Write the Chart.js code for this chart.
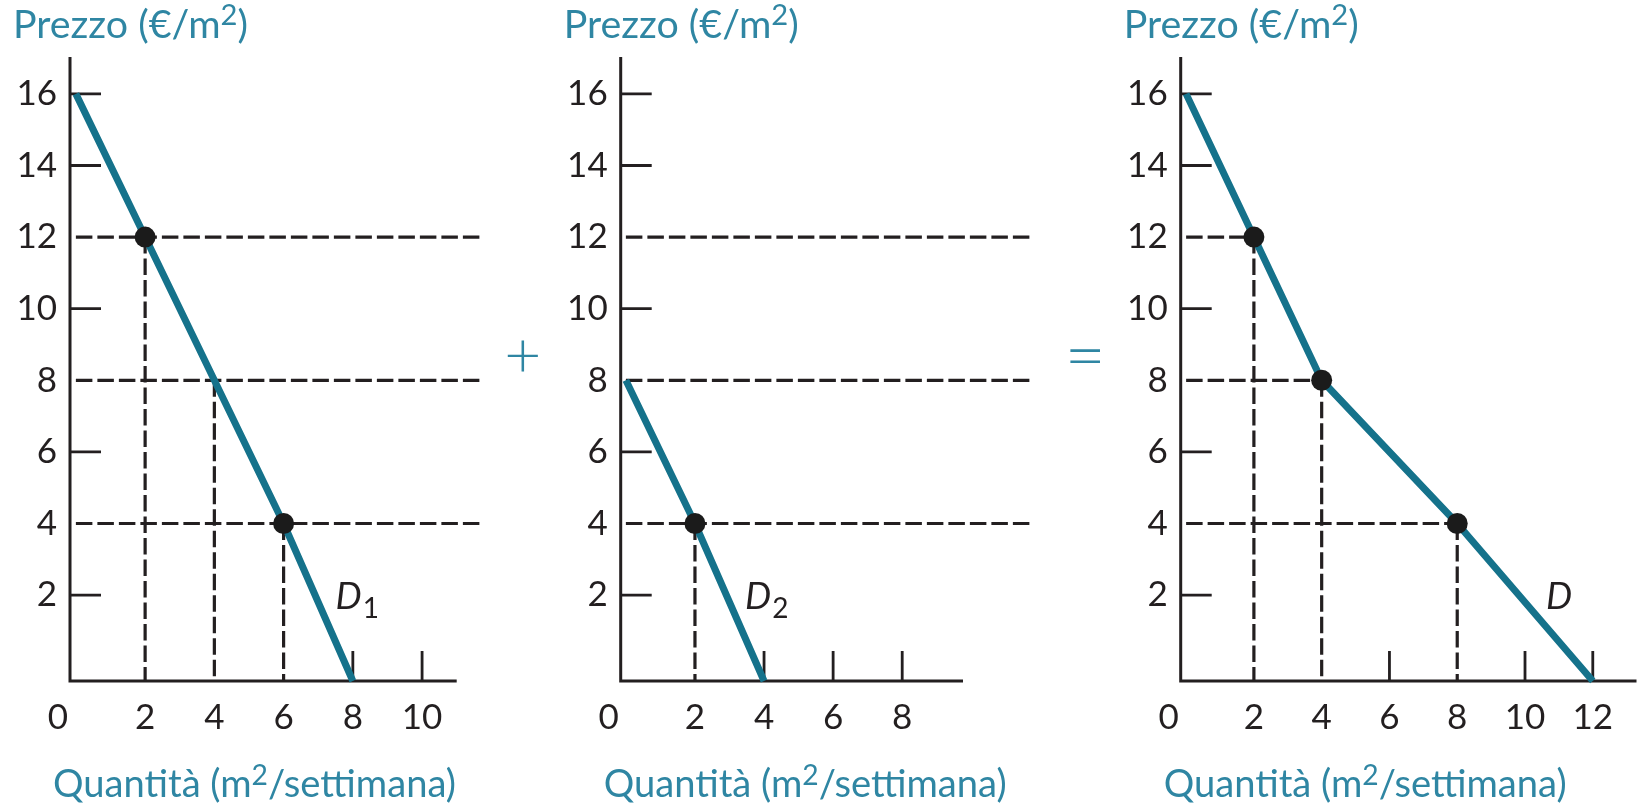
<!DOCTYPE html>
<html><head><meta charset="utf-8">
<script src="https://cdn.jsdelivr.net/npm/chart.js@4.4.1/dist/chart.umd.min.js"></script>
<style>
html,body{margin:0;padding:0;background:#fff;width:1647px;height:811px;overflow:hidden}
canvas{position:absolute;left:0;top:0}
</style></head><body>
<canvas id="c1" width="1647" height="811"></canvas>
<canvas id="c2" width="1647" height="811"></canvas>
<canvas id="c3" width="1647" height="811"></canvas>
<script>
// ---------------- DATA ----------------
const priceTicks = [2, 4, 6, 8, 10, 12, 14, 16];
const qTicks1 = [2, 4, 6, 8, 10];
const qTicks2 = [2, 4, 6, 8];
const qTicks3 = [2, 4, 6, 8, 10, 12];

// Demand curves (quantity, price). The last point is where each curve meets the quantity axis.
const d1Q = [0, 2, 6, 8];        const d1P = [16, 12, 4, -0.4];
const d2Q = [0, 2, 4];           const d2P = [8, 4, -0.4];
const dQ  = [0, 2, 4, 8, 12];    const dP  = [16, 12, 8, 4, -0.4];

// Marked points
const pts1Q = [2, 6];     const pts1P = [12, 4];
const pts2Q = [2];        const pts2P = [4];
const pts3Q = [2, 4, 8];  const pts3P = [12, 8, 4];

// Dashed guides: horizontal (price level, end quantity), vertical (quantity, from price)
const h1P = [12, 8, 4];   const h1End = [11.75, 11.75, 11.75];
const v1Q = [2, 4, 6];    const v1Top = [12, 8, 4];
const h2P = [12, 8, 4];   const h2End = [11.75, 11.75, 11.75];
const v2Q = [2];          const v2Top = [4];
const h3P = [12, 8, 4];   const h3End = [2, 4, 8];
const v3Q = [2, 4, 8];    const v3Top = [12, 8, 4];

const curveNames = ['D', 'D', 'D'];
const curveSubs  = ['1', '2', ''];
const priceTitle = ['Prezzo (€/m', '2', ')'];
const qtyTitle   = ['Quantità (m', '2', '/settimana)'];

// ---------------- STYLE / LAYOUT ----------------
const FAMILY = 'Lato, "Open Sans", "DejaVu Sans", sans-serif';
const TEXT = '#231f20';
const TEAL_TEXT = '#2f86a3';
const CURVE = '#15728b';
const INK = '#231f20';
const P_MIN = -0.4, P_MAX = 17.03;
const AXIS_TOP = 57, AXIS_BOTTOM = 681;
const Y_W = 60, X_H = 80;
const TICK_FONT = 35;
const X_LABEL_PAD = 36.5 - TICK_FONT * 0.6;

const panels = [
  {id:'c1', left:70, right:456.7, qMin:-0.17, qMax:11.0, qTicks:qTicks1,
   cQ:d1Q, cP:d1P, pQ:pts1Q, pP:pts1P, hP:h1P, hEnd:h1End, vQ:v1Q, vTop:v1Top,
   name:curveNames[0], sub:curveSubs[0], labelAt:[7.5, 1.6]},
  {id:'c2', left:620.7, right:963, qMin:-0.15, qMax:9.76, qTicks:qTicks2,
   cQ:d2Q, cP:d2P, pQ:pts2Q, pP:pts2P, hP:h2P, hEnd:h2End, vQ:v2Q, vTop:v2Top,
   name:curveNames[1], sub:curveSubs[1], labelAt:[3.45, 1.6]},
  {id:'c3', left:1180.7, right:1643.3, qMin:-0.16, qMax:13.29, qTicks:qTicks3,
   cQ:dQ, cP:dP, pQ:pts3Q, pP:pts3P, hP:h3P, hEnd:h3End, vQ:v3Q, vTop:v3Top,
   name:curveNames[2], sub:curveSubs[2], labelAt:[10.62, 1.6]}
];

function zip(xs, ys){ return xs.map((x,i)=>({x:x, y:ys[i]})); }

function drawParts(ctx, parts, x, baseline, size, color){
  ctx.save();
  ctx.fillStyle = color;
  ctx.textBaseline = 'alphabetic';
  ctx.textAlign = 'left';
  let cx = x;
  parts.forEach((t, i) => {
    const sup = (i === 1);
    const s = sup ? size*0.74 : size;
    ctx.font = s + 'px ' + FAMILY;
    ctx.fillText(t, cx, sup ? baseline - size*0.32 : baseline);
    cx += ctx.measureText(t).width;
  });
  ctx.restore();
}
function partsWidth(ctx, parts, size){
  let w = 0;
  parts.forEach((t,i)=>{ ctx.font = (i===1?size*0.74:size)+'px '+FAMILY; w += ctx.measureText(t).width; });
  return w;
}

function decor(p, idx){
  return {
    id:'decor'+idx,
    beforeDatasetsDraw(chart){
      const ctx = chart.ctx, xs = chart.scales.x, ys = chart.scales.y;
      const ca = chart.chartArea;
      ctx.save();
      ctx.strokeStyle = INK; ctx.lineWidth = 3; ctx.lineCap = 'butt';
      ctx.beginPath();
      ctx.moveTo(ca.left, ca.top); ctx.lineTo(ca.left, ca.bottom + 1.5);
      ctx.moveTo(ca.left - 1.5, ca.bottom); ctx.lineTo(ca.right, ca.bottom);
      ctx.stroke();
      ctx.lineWidth = 2.8;
      ctx.beginPath();
      priceTicks.filter(v => !p.hP.includes(v)).forEach(v => {
        const y = ys.getPixelForValue(v);
        ctx.moveTo(ca.left, y); ctx.lineTo(ca.left + 31, y);
      });
      p.qTicks.filter(v => !p.vQ.includes(v)).forEach(v => {
        const x = xs.getPixelForValue(v);
        ctx.moveTo(x, ca.bottom); ctx.lineTo(x, ca.bottom - 30);
      });
      ctx.stroke();
      ctx.restore();
    },
    afterDraw(chart){
      const ctx = chart.ctx, xs = chart.scales.x, ys = chart.scales.y;
      const ca = chart.chartArea;
      ctx.save();
      ctx.fillStyle = TEXT;
      ctx.font = TICK_FONT + 'px ' + FAMILY;
      ctx.textAlign = 'center'; ctx.textBaseline = 'middle';
      ctx.fillText('0', ca.left - 12, ca.bottom + X_LABEL_PAD + TICK_FONT*1.2/2);
      const ptSize = 32 * 235 / partsWidth(ctx, priceTitle, 32);
      drawParts(ctx, priceTitle, ca.left - 57, 38, ptSize, TEAL_TEXT);
      const qtSize = 32 * 403 / partsWidth(ctx, qtyTitle, 32);
      drawParts(ctx, qtyTitle, ca.left - 17, 797, qtSize, TEAL_TEXT);
      const lx = xs.getPixelForValue(p.labelAt[0]);
      const ly = ys.getPixelForValue(p.labelAt[1]);
      ctx.textAlign = 'left'; ctx.textBaseline = 'alphabetic';
      ctx.fillStyle = TEXT;
      ctx.font = 'italic 37px ' + FAMILY;
      ctx.fillText(p.name, lx, ly);
      const dw = ctx.measureText(p.name).width;
      if (p.sub){
        ctx.font = '28px ' + FAMILY;
        ctx.fillText(p.sub, lx + dw + 1, ly + 9);
      }
      if (idx === 0 || idx === 1){
        const sym = idx === 0 ? '+' : '=';
        const cx = idx === 0 ? 522.7 : 1085;
        const targetW = idx === 0 ? 32 : 30;
        ctx.font = '300 50px ' + FAMILY;
        const m = ctx.measureText(sym);
        const gw = m.actualBoundingBoxLeft + m.actualBoundingBoxRight;
        const size = 50 * targetW / gw;
        ctx.font = '300 ' + size + 'px ' + FAMILY;
        const m2 = ctx.measureText(sym);
        const gx = cx - (m2.actualBoundingBoxRight - m2.actualBoundingBoxLeft)/2;
        ctx.fillStyle = TEAL_TEXT;
        ctx.fillText(sym, gx, 355.5 + m2.actualBoundingBoxAscent - (m2.actualBoundingBoxAscent + m2.actualBoundingBoxDescent)/2);
      }
      ctx.restore();
    }
  };
}

function build(){
  panels.forEach((p, idx) => {
    const datasets = [];
    datasets.push({data: zip(p.pQ, p.pP), showLine:false, pointRadius:10.5,
      pointBackgroundColor:'#1b1b1b', pointBorderWidth:0, clip:false});
    datasets.push({data: zip(p.cQ, p.cP), showLine:true, borderColor:CURVE, borderWidth:7,
      pointRadius:0, borderCapStyle:'butt', borderJoinStyle:'round', clip:false, tension:0});
    p.hP.forEach((v,i) => datasets.push({data:[{x:0,y:v},{x:p.hEnd[i],y:v}], showLine:true,
      borderColor:INK, borderWidth:3.2, borderDash:[16.5,5], pointRadius:0, clip:false}));
    p.vQ.forEach((q,i) => datasets.push({data:[{x:q,y:p.vTop[i]},{x:q,y:P_MIN}], showLine:true,
      borderColor:INK, borderWidth:3.2, borderDash:[16.5,5], pointRadius:0, clip:false}));

    new Chart(document.getElementById(p.id), {
      type:'scatter',
      data:{datasets},
      options:{
        responsive:false, devicePixelRatio:1, animation:false, events:[],
        layout:{padding:{left:p.left - Y_W, right:1647 - p.right, top:AXIS_TOP, bottom:811 - AXIS_BOTTOM - X_H}},
        plugins:{legend:{display:false}, tooltip:{enabled:false}, title:{display:false}},
        scales:{
          x:{type:'linear', min:p.qMin, max:p.qMax,
            afterFit:s=>{s.height = X_H;},
            afterBuildTicks:s=>{s.ticks = p.qTicks.map(v=>({value:v}));},
            grid:{display:false, drawTicks:false}, border:{display:false},
            ticks:{padding:X_LABEL_PAD, color:TEXT, font:{family:FAMILY, size:TICK_FONT}, autoSkip:false,
              maxRotation:0, minRotation:0, callback:v=>String(v)}},
          y:{type:'linear', min:P_MIN, max:P_MAX,
            afterFit:s=>{s.width = Y_W;},
            afterBuildTicks:s=>{s.ticks = priceTicks.map(v=>({value:v}));},
            grid:{display:false, drawTicks:false}, border:{display:false},
            ticks:{padding:13, color:TEXT, font:{family:FAMILY, size:TICK_FONT}, autoSkip:false,
              callback:v=>String(v)}}
        }
      },
      plugins:[decor(p, idx)]
    });
  });
}
const fontReady = (document.fonts && document.fonts.load)
  ? Promise.all([document.fonts.load('35px Lato'), document.fonts.load('italic 37px Lato'), document.fonts.load('300 35px Lato')]).catch(()=>{})
  : Promise.resolve();
fontReady.then(build, build);
</script>
</body></html>
